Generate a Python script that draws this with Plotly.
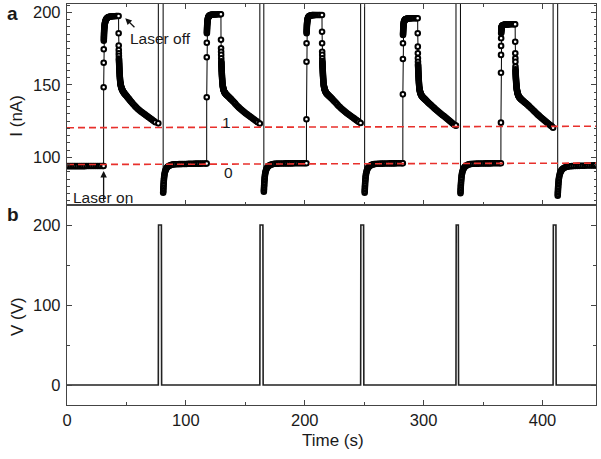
import plotly.graph_objects as go

# ---------------- event times (s) ----------------
laser_on_s = [30.8, 117.5, 201.4, 282.5, 365.0]
laser_off_s = [43.4, 129.5, 214.5, 295.0, 377.0]
pulse_start_s = [76.8, 162.2, 247.0, 327.2, 408.9]
pulse_end_s = [79.6, 165.0, 249.7, 329.4, 411.5]
rec_start_s = [80.9, 165.6, 250.4, 331.0, 412.8]
pulse_v = 200          # gate pulse amplitude (V)
spike_i = 300          # current during the pulse: off scale (clipped)

# ---------------- current (nA) ----------------
start_i = [93.9, 93.9, 93.9, 93.9, 93.9, 93.9, 93.9, 93.9, 93.9, 93.9, 93.9,
           94.0, 94.0, 94.0, 94.0, 94.0, 94.0, 94.0, 94.0, 94.0, 94.0]

rise_dt = [0, 0.04, 0.08, 0.12, 0.16,
           0.2, 0.24, 0.28, 0.32, 0.36, 0.4, 0.45, 0.5, 0.56, 0.62,
           0.7, 0.8, 0.9, 1.0, 1.15, 1.3, 1.5, 1.7, 1.95, 2.2,
           2.5, 2.85, 3.25, 3.7, 4.2, 4.8, 5.5, 6.3, 7.2, 8.2,
           9.3, 10.5, 11.5]
rise1_i = [94.0, 148.3, 165.2, 174.5, 180.4,
           181.5, 182.5, 183.5, 184.4, 185.3, 186.2, 187.0, 187.8, 188.6, 189.3,
           190.0, 190.7, 191.4, 192.0, 192.6, 193.2, 193.8, 194.3, 194.8, 195.2,
           195.6, 195.9, 196.2, 196.5, 196.7, 196.9, 197.0, 197.1, 197.2, 197.3,
           197.3, 197.4, 197.4]
rise2_i = [95.7, 141.4, 169.0, 179.0, 185.5,
           186.4, 187.3, 188.1, 188.9, 189.7, 190.5, 191.2, 191.9, 192.6, 193.2,
           193.8, 194.4, 195.0, 195.5, 196.0, 196.4, 196.8, 197.1, 197.4, 197.6,
           197.8, 198.0, 198.1, 198.2, 198.3, 198.4, 198.4, 198.5, 198.5, 198.5,
           198.6, 198.6, 198.6]
rise3_i = [95.9, 126.2, 165.9, 178.6, 185.5,
           186.4, 187.2, 188.0, 188.8, 189.6, 190.3, 191.0, 191.7, 192.3, 192.9,
           193.5, 194.1, 194.6, 195.1, 195.6, 196.0, 196.4, 196.7, 197.0, 197.2,
           197.4, 197.6, 197.7, 197.8, 197.9, 198.0, 198.0, 198.0, 198.1, 198.1,
           198.1, 198.1, 198.1]
rise4_i = [95.9, 143.4, 167.8, 178.6, 184.3,
           185.1, 185.9, 186.7, 187.5, 188.2, 188.9, 189.6, 190.2, 190.8, 191.4,
           192.0, 192.5, 193.0, 193.4, 193.8, 194.1, 194.4, 194.7, 194.9, 195.1,
           195.3, 195.4, 195.5, 195.6, 195.7, 195.7, 195.8, 195.8, 195.8, 195.9,
           195.9, 195.9, 195.9]
rise5_i = [95.9, 123.9, 158.3, 170.6, 176.8,
           182.1, 185.5, 186.3, 187.0, 187.6, 188.1, 188.5, 188.9, 189.3, 189.6,
           189.9, 190.1, 190.3, 190.5, 190.7, 190.8, 190.9, 191.0, 191.1, 191.2,
           191.3, 191.4, 191.4, 191.5, 191.5, 191.6, 191.6, 191.6, 191.7, 191.7,
           191.7, 191.7, 191.7]

peak_i = [197.4, 198.6, 198.1, 195.9, 191.7]

decay_dt = [0.05, 0.1, 0.15, 0.2, 0.25, 0.3,
            0.34, 0.38, 0.42, 0.46, 0.5, 0.54, 0.58, 0.62, 0.67, 0.72,
            0.77, 0.82, 0.88, 0.94, 1.0, 1.07, 1.14, 1.22, 1.3, 1.39,
            1.48, 1.58, 1.69, 1.8, 1.92, 2.05, 2.2, 2.35, 2.5, 2.7,
            2.9, 3.1, 3.35, 3.6, 3.9, 4.2, 4.55, 4.9, 5.3, 5.7,
            6.2, 6.7, 7.2, 7.8, 8.4, 9.0, 9.7, 10.4, 11.2, 12,
            13, 14, 15, 16, 17, 18, 19, 20, 21, 22,
            23, 24, 25, 26, 27, 28, 29, 30, 31]
decay1_i = [185.5, 177.0, 174.0, 171.7, 169.9, 168.0,
            167.2, 166.4, 165.6, 164.8, 164.0, 163.2, 162.4, 161.6, 160.8, 160.0,
            159.2, 158.4, 157.6, 156.8, 156.0, 155.2, 154.4, 153.6, 152.8, 152.0,
            151.4, 150.9, 150.4, 149.9, 149.4, 148.9, 148.4, 148.0, 147.6, 147.2,
            146.8, 146.4, 146.0, 145.6, 145.2, 144.8, 144.4, 144.0, 143.6, 143.2,
            142.7, 142.2, 141.7, 141.1, 140.5, 139.9, 139.2, 138.5, 137.7, 136.9,
            136.0, 135.1, 134.3, 133.5, 132.8, 132.1, 131.4, 130.8, 130.2, 129.6,
            129.0, 128.4, 127.8, 127.2, 126.6, 126.0, 125.4, 124.8, 124.2]
decay2_i = [181.0, 175.2, 172.8, 170.6, 168.3, 166.2,
            165.4, 164.6, 163.8, 163.0, 162.2, 161.4, 160.6, 159.8, 159.0, 158.2,
            157.4, 156.6, 155.8, 155.0, 154.2, 153.4, 152.6, 151.8, 151.0, 150.2,
            149.6, 149.0, 148.5, 148.0, 147.5, 147.0, 146.6, 146.2, 145.8, 145.4,
            145.0, 144.7, 144.4, 144.1, 143.8, 143.5, 143.2, 142.9, 142.6, 142.3,
            141.9, 141.5, 141.1, 140.6, 140.1, 139.6, 139.0, 138.4, 137.7, 137.0,
            136.1, 135.2, 134.4, 133.6, 132.9, 132.2, 131.5, 130.8, 130.2, 129.6,
            129.0, 128.4, 127.8, 127.2, 126.6, 126.0, 125.4, 124.8, 124.2]
decay3_i = [186.6, 178.6, 172.8, 170.6, 168.3, 166.4,
            165.6, 164.8, 164.0, 163.2, 162.4, 161.6, 160.8, 160.0, 159.2, 158.4,
            157.6, 156.8, 156.0, 155.2, 154.4, 153.6, 152.8, 152.0, 151.2, 150.4,
            149.8, 149.3, 148.8, 148.3, 147.8, 147.4, 147.0, 146.6, 146.2, 145.8,
            145.4, 145.0, 144.6, 144.3, 144.0, 143.7, 143.4, 143.1, 142.8, 142.5,
            142.1, 141.7, 141.3, 140.8, 140.3, 139.8, 139.2, 138.6, 137.9, 137.2,
            136.3, 135.4, 134.6, 133.8, 133.1, 132.4, 131.7, 131.0, 130.4, 129.8,
            129.2, 128.6, 128.0, 127.4, 126.8, 126.2, 125.6, 125.0, 124.4]
decay4_i = [185.5, 176.3, 171.7, 168.3, 165.9, 164.0,
            163.2, 162.4, 161.6, 160.8, 160.0, 159.2, 158.4, 157.6, 156.8, 156.0,
            155.2, 154.4, 153.6, 152.8, 152.0, 151.2, 150.4, 149.6, 148.8, 148.0,
            147.4, 146.9, 146.4, 145.9, 145.4, 145.0, 144.6, 144.2, 143.8, 143.4,
            143.0, 142.7, 142.4, 142.1, 141.8, 141.5, 141.2, 140.9, 140.6, 140.3,
            139.9, 139.5, 139.1, 138.6, 138.1, 137.6, 137.1, 136.6, 136.0, 135.4,
            134.7, 133.9, 133.1, 132.4, 131.7, 131.0, 130.3, 129.6, 129.0, 128.4,
            127.8, 127.1, 126.4, 125.7, 125.0, 124.3, 123.6, 122.9, 122.3]
decay5_i = [179.7, 171.7, 168.3, 165.9, 162.5, 160.6,
            159.8, 159.0, 158.3, 157.6, 156.9, 156.2, 155.5, 154.8, 154.1, 153.4,
            152.7, 152.0, 151.3, 150.6, 150.0, 149.4, 148.8, 148.2, 147.6, 147.0,
            146.5, 146.0, 145.5, 145.0, 144.6, 144.2, 143.8, 143.4, 143.0, 142.6,
            142.2, 141.9, 141.6, 141.3, 141.0, 140.7, 140.4, 140.1, 139.8, 139.5,
            139.2, 138.8, 138.4, 138.0, 137.6, 137.2, 136.7, 136.2, 135.6, 135.0,
            134.2, 133.4, 132.6, 131.8, 131.0, 130.2, 129.4, 128.7, 128.0, 127.3,
            126.6, 125.9, 125.2, 124.5, 123.8, 123.1, 122.4, 121.8, 121.2]
decay_end_i = [123.4, 123.3, 123.6, 121.8, 120.4]

rec_dt = [0, 0.06, 0.12, 0.18, 0.25, 0.32, 0.4, 0.5, 0.6, 0.72, 0.85, 1.0, 1.2, 1.45,
          1.75, 2.1, 2.5, 3.0, 3.6, 4.3, 5.1, 6.0, 7.0, 8.0]
rec1_i = [75.5, 76.6, 77.7, 78.8, 79.9, 81.0, 82.1, 83.3, 84.4, 85.5, 86.6, 87.6, 88.6,
          89.6, 90.5, 91.3, 92.0, 92.7, 93.3, 93.8, 94.2, 94.5, 94.8, 95.0]
rec2_i = [76.3, 77.4, 78.5, 79.6, 80.7, 81.8, 82.9, 84.0, 85.1, 86.1, 87.1, 88.1, 89.1,
          90.0, 90.9, 91.7, 92.4, 93.1, 93.7, 94.2, 94.6, 94.9, 95.2, 95.4]
rec3_i = [75.6, 76.7, 77.8, 78.9, 80.0, 81.1, 82.2, 83.4, 84.5, 85.6, 86.7, 87.7, 88.7,
          89.7, 90.6, 91.4, 92.2, 92.9, 93.5, 94.0, 94.5, 94.8, 95.1, 95.3]
rec4_i = [75.2, 76.3, 77.4, 78.5, 79.6, 80.7, 81.8, 83.0, 84.1, 85.2, 86.3, 87.4, 88.4,
          89.4, 90.3, 91.2, 92.0, 92.7, 93.4, 93.9, 94.4, 94.8, 95.1, 95.3]
rec5_i = [73.5, 74.6, 75.7, 76.8, 77.9, 79.0, 80.1, 81.2, 82.3, 83.4, 84.4, 85.4, 86.4,
          87.4, 88.4, 89.3, 90.1, 90.8, 91.5, 92.1, 92.6, 93.0, 93.3, 93.5]

dark1_i = [95.1, 95.2, 95.2, 95.3, 95.3, 95.4, 95.4, 95.4, 95.5, 95.5, 95.5, 95.5, 95.6,
           95.6, 95.6, 95.6, 95.7, 95.7, 95.7]
dark2_i = [95.5, 95.6, 95.6, 95.7, 95.7, 95.7, 95.8, 95.8, 95.8, 95.8, 95.8, 95.9, 95.9,
           95.9, 95.9, 95.9, 95.9, 95.9]
dark3_i = [95.4, 95.5, 95.5, 95.6, 95.6, 95.7, 95.7, 95.7, 95.8, 95.8, 95.8, 95.8, 95.9,
           95.9, 95.9, 95.9]
dark4_i = [95.4, 95.5, 95.5, 95.6, 95.6, 95.7, 95.7, 95.7, 95.8, 95.8, 95.8, 95.8, 95.9,
           95.9, 95.9, 95.9, 95.9]
dark5_i = [93.7, 93.8, 93.9, 94.0, 94.0, 94.1, 94.1, 94.2, 94.2, 94.2, 94.3, 94.3, 94.3,
           94.3, 94.4, 94.4, 94.4]

# reference levels "0" and "1" (dashed), value at t=0 and at t=445
level0_i = [95.0, 96.0]
level1_i = [120.4, 121.4]
level_t = [0, 445]

rise_i = [rise1_i, rise2_i, rise3_i, rise4_i, rise5_i]
decay_i = [decay1_i, decay2_i, decay3_i, decay4_i, decay5_i]
rec_i = [rec1_i, rec2_i, rec3_i, rec4_i, rec5_i]
dark_i = [dark1_i, dark2_i, dark3_i, dark4_i, dark5_i]

# ---------------- assemble current trace ----------------
t_all, i_all = [], []
for k, v in enumerate(start_i):
    t_all.append(1.5 * k); i_all.append(v)
for c in range(5):
    assert len(rise_i[c]) == len(rise_dt), ("rise", c)
    assert len(decay_i[c]) == len(decay_dt), ("decay", c)
    assert len(rec_i[c]) == len(rec_dt), ("rec", c)
    for dt, v in zip(rise_dt, rise_i[c]):
        t_all.append(laser_on_s[c] + dt); i_all.append(v)
    t_all.append(laser_off_s[c]); i_all.append(peak_i[c])
    for dt, v in zip(decay_dt, decay_i[c]):
        t_all.append(laser_off_s[c] + dt); i_all.append(v)
    t_all.append(pulse_start_s[c]); i_all.append(decay_end_i[c])
    t_all.append(pulse_start_s[c] + 0.05); i_all.append(spike_i)
    t_all.append(rec_start_s[c] - 0.05); i_all.append(spike_i)
    for dt, v in zip(rec_dt, rec_i[c]):
        t_all.append(rec_start_s[c] + dt); i_all.append(v)
    for k, v in enumerate(dark_i[c]):
        t_all.append(rec_start_s[c] + 9 + 1.5 * k); i_all.append(v)

# ---------------- voltage trace ----------------
v_t, v_v = [0], [0]
for ps, pe in zip(pulse_start_s, pulse_end_s):
    v_t += [ps, ps + 0.2, pe - 0.2, pe]
    v_v += [0, pulse_v, pulse_v, 0]
v_t.append(445); v_v.append(0)

FONT = "Liberation Sans, Arial, Helvetica, sans-serif"
AX = "#444444"
RED = "#e8302c"

fig = go.Figure()
fig.add_trace(go.Scatter(
    x=t_all, y=i_all, mode="lines+markers", xaxis="x", yaxis="y",
    line=dict(color="black", width=1),
    marker=dict(symbol="circle", size=4.6, color="white",
                line=dict(color="black", width=2.0)),
    cliponaxis=True, showlegend=False))
fig.add_trace(go.Scatter(x=level_t, y=level1_i, mode="lines", xaxis="x", yaxis="y",
                         line=dict(color=RED, width=1.6, dash="7px,4px"), showlegend=False))
fig.add_trace(go.Scatter(x=level_t, y=level0_i, mode="lines", xaxis="x", yaxis="y",
                         line=dict(color=RED, width=1.6, dash="7px,4px"), showlegend=False))
fig.add_trace(go.Scatter(x=v_t, y=v_v, mode="lines", xaxis="x2", yaxis="y2",
                         line=dict(color="#222222", width=1.6), showlegend=False))

tickfont = dict(family=FONT, size=16.5, color="#1a1a1a")
common = dict(showline=True, linecolor=AX, linewidth=1.2, ticks="inside",
              tickcolor=AX, tickwidth=1, showgrid=False, zeroline=False,
              tickfont=tickfont, automargin=False)
split = 200 / 401
fig.update_layout(
    template="none",
    width=601, height=459,
    margin=dict(l=67, r=5, t=4, b=54, autoexpand=False),
    paper_bgcolor="white", plot_bgcolor="white",
    font=dict(family=FONT, color="#1a1a1a"),
    showlegend=False,
    xaxis=dict(domain=[0, 1], anchor="y", range=[0, 445], dtick=100, tick0=0,
               ticklen=5, mirror="allticks", showticklabels=False,
               minor=dict(dtick=50, ticklen=3, ticks="inside", tickcolor=AX), **common),
    yaxis=dict(domain=[split, 1], anchor="x", range=[67.1, 205.7], dtick=50, tick0=0,
               ticklen=5, mirror="allticks", ticklabelstandoff=2,
               minor=dict(dtick=5, ticklen=2.5, ticks="inside", tickcolor=AX), **common),
    xaxis2=dict(domain=[0, 1], anchor="y2", range=[0, 445], dtick=100, tick0=0,
                ticklen=5, mirror=True,
                minor=dict(dtick=50, ticklen=3, ticks="inside", tickcolor=AX), **common),
    yaxis2=dict(domain=[0, split], anchor="x2", range=[-25, 225], dtick=100, tick0=0,
                ticklen=5, mirror="allticks", ticklabelstandoff=2,
                minor=dict(dtick=50, ticklen=3, ticks="inside", tickcolor=AX), **common),
)

ann = []
def txt(x, y, s, size, xref="paper", yref="paper", angle=0, bold=False):
    ann.append(dict(x=x, y=y, xref=xref, yref=yref, text=f"<b>{s}</b>" if bold else s,
                    showarrow=False, xanchor="center", yanchor="middle", textangle=angle,
                    font=dict(family=FONT, size=size, color="#1a1a1a")))

# axis titles and panel letters (paper coords)
txt((17 - 67) / 529, (405 - 115.7) / 401, "I (nA)", 17, angle=-90)
txt((17 - 67) / 529, (405 - 317) / 401, "V (V)", 17, angle=-90)
txt((333 - 67) / 529, (405 - 440) / 401, "Time (s)", 17)
txt((12 - 67) / 529, (405 - 13) / 401, "a", 19, bold=True)
txt((12.5 - 67) / 529, (405 - 214) / 401, "b", 19, bold=True)

# in-plot labels (data coords)
txt(78.9, 182.1, "Laser off", 15.5, "x", "y")
txt(30.3, 72.3, "Laser on", 15.5, "x", "y")
txt(133.9, 124.1, "1", 15.5, "x", "y")
txt(135.6, 89.7, "0", 15.5, "x", "y")

# arrows
ann.append(dict(x=49.0, y=195.9, ax=58.0, ay=188.6, xref="x", yref="y", axref="x", ayref="y",
                text="", showarrow=True, arrowhead=2, arrowsize=1, arrowwidth=1.3,
                arrowcolor="#111111", standoff=0))
ann.append(dict(x=30.8, y=90.6, ax=30.8, ay=68.5, xref="x", yref="y", axref="x", ayref="y",
                text="", showarrow=True, arrowhead=2, arrowsize=1, arrowwidth=1.3,
                arrowcolor="#111111", standoff=0))
fig.update_layout(annotations=ann)

fig.write_html(
    "out.html",
    config={"displayModeBar": False, "staticPlot": True},
    post_script="document.body.style.margin='0';document.body.style.padding='0';"
                "document.documentElement.style.overflow='hidden';",
)
